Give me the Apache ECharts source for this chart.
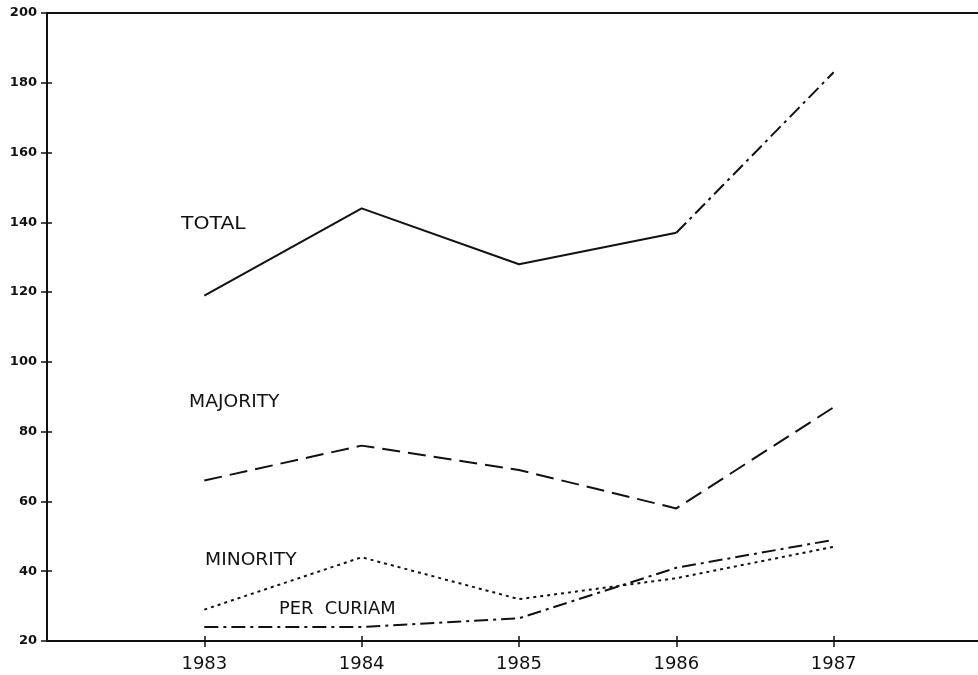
<!DOCTYPE html>
<html>
<head>
<meta charset="utf-8">
<script src="https://cdn.jsdelivr.net/npm/echarts@6/dist/echarts.min.js"></script>
<style>
  html, body { margin: 0; padding: 0; background: #fff; }
  #chart { width: 978px; height: 675px; }
</style>
</head>
<body>
<div id="chart"></div>
<script>
// data
var years = [1983, 1984, 1985, 1986, 1987]
var total = [119, 144, 128, 137, 183]
var majority = [66, 76, 69, 58, 87]
var minority = [29, 44, 32, 38, 47]
var perCuriam = [24, 24, 26.5, 41, 49]
var yTicks = [20, 40, 60, 80, 100, 120, 140, 160, 180, 200]

var ink = '#111'
var chart = echarts.init(document.getElementById('chart'))

function pairs(vals) {
  return years.map(function (y, i) { return [y, vals[i]] })
}
// total is solid up to 1986, dash-dot for the last segment
var totalSolid = pairs(total).slice(0, 4)
var totalLast = pairs(total).slice(3)

var xBase = {
  type: 'value', min: 1982, max: 1988, interval: 1,
  splitLine: {show: false}
}
var yBase = {
  type: 'value', min: 20, max: 200, interval: 20,
  splitLine: {show: false}
}

var option = {
  backgroundColor: '#fff',
  animation: false,
  grid: {left: 47, top: 13, width: 944, height: 628, outerBoundsMode: 'none', containLabel: false},
  xAxis: [
    Object.assign({}, xBase, {
      position: 'bottom',
      axisLine: {lineStyle: {color: ink, width: 2}},
      axisTick: {length: 6, lineStyle: {color: ink, width: 1.5}},
      axisLabel: {
        color: ink, fontSize: 18, fontFamily: 'DejaVu Sans', margin: 14,
        showMinLabel: false, showMaxLabel: false,
        formatter: function (v) { return String(v) }
      }
    }),
    Object.assign({}, xBase, {
      position: 'bottom',
      axisLine: {show: false},
      axisTick: {inside: true, length: 5, lineStyle: {color: ink, width: 1.5}},
      axisLabel: {show: false}
    }),
    Object.assign({}, xBase, {
      position: 'top',
      axisLine: {lineStyle: {color: ink, width: 2}},
      axisTick: {show: false},
      axisLabel: {show: false}
    })
  ],
  yAxis: [
    Object.assign({}, yBase, {
      position: 'left',
      axisLine: {lineStyle: {color: ink, width: 2}},
      axisTick: {length: 6, lineStyle: {color: ink, width: 1.5}},
      axisLabel: {
        color: ink, fontSize: 13, fontWeight: 'bold', fontFamily: 'DejaVu Sans', margin: 10,
        customValues: yTicks
      }
    }),
    Object.assign({}, yBase, {
      position: 'left',
      axisLine: {show: false},
      axisTick: {inside: true, length: 5, lineStyle: {color: ink, width: 1.5}},
      axisLabel: {show: false}
    })
  ],
  series: [
    {
      name: 'TOTAL', type: 'line', data: totalSolid, symbol: 'none',
      lineStyle: {color: ink, width: 2}
    },
    {
      name: 'TOTAL 1987', type: 'line', data: totalLast, symbol: 'none',
      lineStyle: {color: ink, width: 2, type: [14, 5, 3, 5]}
    },
    {
      name: 'MAJORITY', type: 'line', data: pairs(majority), symbol: 'none',
      lineStyle: {color: ink, width: 2, type: [18, 8]}
    },
    {
      name: 'MINORITY', type: 'line', data: pairs(minority), symbol: 'none',
      lineStyle: {color: ink, width: 2, type: [3, 4]}
    },
    {
      name: 'PER CURIAM', type: 'line', data: pairs(perCuriam), symbol: 'none',
      lineStyle: {color: ink, width: 2, type: [14, 5, 3, 5]}
    }
  ],
  graphic: [
    {type: 'text', left: 181, top: 216, style: {text: 'TOTAL', fill: ink, font: '17px "DejaVu Sans"'}, scaleX: 1.2},
    {type: 'text', left: 189, top: 394, style: {text: 'MAJORITY', fill: ink, font: '17px "DejaVu Sans"'}, scaleX: 1.1},
    {type: 'text', left: 205, top: 552, style: {text: 'MINORITY', fill: ink, font: '17px "DejaVu Sans"'}, scaleX: 1.1},
    {type: 'text', left: 279, top: 601, style: {text: 'PER  CURIAM', fill: ink, font: '17px "DejaVu Sans"'}, scaleX: 1.05}
  ]
}

chart.setOption(option)
</script>
</body>
</html>
